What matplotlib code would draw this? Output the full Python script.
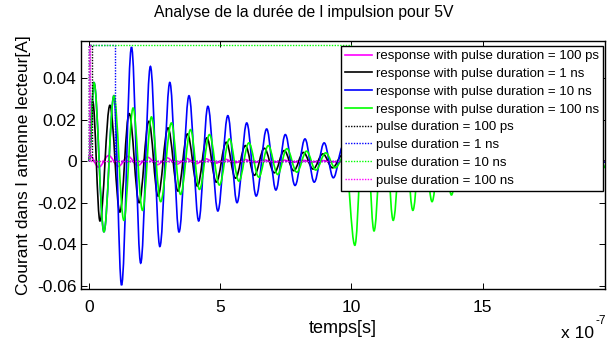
import matplotlib
matplotlib.use("Agg")
import matplotlib.pyplot as plt
from matplotlib.path import Path
from matplotlib.patches import PathPatch
from matplotlib.lines import Line2D

# time values are in units of 1e-7 s; values are the read extrema of each curve
t_green = [0, 0.19, 0.57, 0.95, 1.33, 1.68, 2.04, 2.38, 2.73, 3.14, 3.49, 3.87, 4.21, 4.59,
           4.97, 5.35, 5.71, 6.09, 6.47, 6.83, 7.19, 7.54, 7.92, 8.29, 8.64, 9.02, 9.38, 9.75,
           10.13, 10.5, 10.86, 11.23, 11.59, 11.97, 12.34, 12.7, 13.07, 13.44, 13.81, 14.18,
           14.55, 14.92, 15.28, 15.65, 16.02, 16.39, 16.76, 17.13, 17.5, 17.87, 18.24, 18.61,
           18.98, 19.35, 19.72]
i_green = [0, 0.0378, -0.034, 0.0315, -0.0285, 0.0256, -0.0237, 0.0213, -0.0195, 0.0184, -0.016,
           0.0152, -0.0136, 0.0128, -0.0115, 0.0107, -0.0096, 0.0088, -0.0077, 0.0075, -0.0064,
           0.006, -0.0053, 0.0048, -0.0043, 0.004, -0.0032, 0.003,
           -0.0405, 0.036, -0.0336, 0.031, -0.0285, 0.026, -0.0237, 0.022, -0.0195, 0.018,
           -0.0163, 0.015, -0.0135, 0.0125, -0.0112, 0.0104, -0.0093, 0.0086, -0.0077, 0.0071,
           -0.0064, 0.0059, -0.0053, 0.0049, -0.0044, 0.004, -0.0036]

t_blue = [0, 0.19, 0.57, 0.95, 1.24, 1.62, 1.97, 2.34, 2.70, 3.08, 3.43, 3.81, 4.18, 4.53, 4.91,
          5.29, 5.64, 6.01, 6.37, 6.77, 7.12, 7.48, 7.85, 8.23, 8.58, 8.96, 9.31, 9.68, 10.05,
          10.42, 10.79, 11.16, 11.53, 11.9, 12.27, 12.64, 13.01, 13.38, 13.75, 14.12, 14.49,
          14.86, 15.23, 15.6, 15.97, 16.34, 16.71, 17.08, 17.45, 17.82, 18.19, 18.56, 18.93,
          19.3, 19.67]
i_blue = [0, 0.0378, -0.034, 0.0315, -0.0597, 0.0549, -0.0491, 0.0456, -0.0411, 0.0379, -0.0341,
          0.0315, -0.0288, 0.0264, -0.024, 0.0219, -0.020, 0.0184, -0.0168, 0.0155, -0.0139,
          0.0128, -0.0117, 0.0107, -0.0101, 0.0088, -0.008, 0.0073, -0.0066, 0.006, -0.0054,
          0.0049, -0.0045, 0.004, -0.0037, 0.0033, -0.003, 0.0027, -0.0025, 0.0022, -0.002,
          0.0018, -0.0017, 0.0015, -0.0014, 0.0012, -0.0011, 0.001, -0.0009, 0.0008, -0.0008,
          0.0007, -0.0006, 0.0006, -0.0005]

t_black = [0, 0.14, 0.418, 0.797, 1.177, 1.53, 1.91, 2.28, 2.63, 3.01, 3.39, 3.75, 4.13, 4.49,
           4.85, 5.23, 5.58, 5.96, 6.30, 6.68, 7.06, 7.44, 7.80, 8.17, 8.54, 8.91, 9.28, 9.65,
           10.02, 10.39, 10.76, 11.13, 11.5, 11.87, 12.24, 12.61, 12.98, 13.35, 13.72, 14.09,
           14.46, 14.83, 15.2, 15.57, 15.94, 16.31, 19.7]
i_black = [0, 0.0288, -0.0288, 0.0269, -0.0245, 0.0229, -0.020, 0.0192, -0.0168, 0.016, -0.0144,
           0.0131, -0.012, 0.0112, -0.0101, 0.0091, -0.0082, 0.0075, -0.0068, 0.0062, -0.0056,
           0.0051, -0.0046, 0.0042, -0.0038, 0.0035, -0.0032, 0.0029, -0.0026, 0.0024, -0.0022,
           0.002, -0.0018, 0.0016, -0.0015, 0.0013, -0.0012, 0.0011, -0.001, 0.0009, -0.0008,
           0.0008, -0.0007, 0.0006, -0.0006, 0.0005, 0]

t_magenta = [0, 0.02, 0.37, 0.75, 1.12, 1.49, 1.86, 2.23, 2.6, 2.97, 3.34, 3.71, 4.08, 4.45,
             4.82, 5.19, 5.56, 5.93, 6.3, 6.67, 7.04, 7.41, 7.78, 8.15, 8.52, 8.89, 9.26, 19.7]
i_magenta = [0, 0.003, -0.0029, 0.0027, -0.0025, 0.0023, -0.0021, 0.0019, -0.0017, 0.0016,
             -0.0015, 0.0013, -0.0012, 0.0011, -0.001, 0.0009, -0.0008, 0.0008, -0.0007, 0.0006,
             -0.0006, 0.0005, -0.0005, 0.0004, -0.0004, 0.0003, -0.0003, 0]

pulse_amp = 0.0557
pulse_end_black = 0.12
pulse_end_blue = 1.0
pulse_end_green = 10.0
pulse_end_magenta = 0.04
t_final = 19.7

response_labels = ["response with pulse duration = 100 ps",
                   "response with pulse duration = 1 ns",
                   "response with pulse duration = 10 ns",
                   "response with pulse duration = 100 ns"]
pulse_labels = ["pulse duration = 100 ps", "pulse duration = 1 ns",
                "pulse duration = 10 ns", "pulse duration = 100 ns"]

x_ticks = [0, 5, 10, 15]
x_ticklabels = ["0", "5", "10", "15"]
y_ticks = [-0.06, -0.04, -0.02, 0, 0.02, 0.04]
y_ticklabels = ["-0.06", "-0.04", "-0.02", "0", "0.02", "0.04"]

plt.rcParams['font.family'] = ['Liberation Sans', 'DejaVu Sans']

W, H = 607, 340
fig = plt.figure(figsize=(W / 100, H / 100), dpi=100)
ax = fig.add_axes([80.7 / W, 1 - 289.3 / H, 524.3 / W, 248.6 / H])

lw = 1.2
K = 0.364  # Bezier handle fraction giving a sine-like half wave between extrema


def smooth_curve(ts, vs, color, z):
    verts = [(ts[0], vs[0])]
    codes = [Path.MOVETO]
    for k in range(len(ts) - 1):
        t0, v0, t1, v1 = ts[k], vs[k], ts[k + 1], vs[k + 1]
        dt = t1 - t0
        verts += [(t0 + K * dt, v0), (t1 - K * dt, v1), (t1, v1)]
        codes += [Path.CURVE4] * 3
    patch = PathPatch(Path(verts, codes), facecolor='none', edgecolor=color, lw=lw,
                      zorder=z, transform=ax.transData)
    ax.add_patch(patch)


handles = []
series = [(t_magenta, i_magenta, (1, 0, 1)), (t_black, i_black, 'k'),
          (t_blue, i_blue, (0, 0, 1)), (t_green, i_green, (0, 1, 0))]
for n, (ts, vs, col) in enumerate(series):
    smooth_curve(ts, vs, col, 2 + n * 0.1)
    handles.append(Line2D([], [], color=col, lw=lw, label=response_labels[n]))


def pulse(end):
    return [0, 0, end, end, t_final], [0, pulse_amp, pulse_amp, 0, 0]


plw = 1.0
for end, col, lab in [(pulse_end_black, 'k', pulse_labels[0]),
                      (pulse_end_blue, (0, 0, 1), pulse_labels[1]),
                      (pulse_end_green, (0, 1, 0), pulse_labels[2]),
                      (pulse_end_magenta, (1, 0, 1), pulse_labels[3])]:
    px, py = pulse(end)
    h, = ax.plot(px, py, color=col, lw=plw, ls=(0, (1, 1)), label=lab, zorder=3)
    handles.append(h)

ax.set_xlim(-0.316, 19.66)
ax.set_ylim(-0.0617, 0.058)
ax.set_xticks(x_ticks)
ax.set_xticklabels(x_ticklabels)
ax.set_yticks(y_ticks)
ax.set_yticklabels(y_ticklabels)
ax.tick_params(direction='in', length=4, width=0.7, top=True, right=True,
               labelsize=12.5)
ax.tick_params(axis='x', pad=8)
ax.tick_params(axis='y', pad=3)
for s in ax.spines.values():
    s.set_linewidth(1.0)

ax.set_xlabel("temps[s]", fontsize=13, labelpad=3)
ax.set_ylabel("Courant dans l antenne lecteur[A]", fontsize=12.5, labelpad=4)
fig.text(0.5, 1 - 13 / H, "Analyse de la durée de l impulsion pour 5V",
         ha='center', va='center', fontsize=11.3)
fig.text(561 / W, 1 - 338 / H, "x 10", ha='left', va='baseline', fontsize=12.5)
fig.text(595 / W, 1 - 324 / H, "-7", ha='left', va='baseline', fontsize=8.5)

leg = ax.legend(handles=handles, loc='upper right', bbox_to_anchor=(0.9968, 0.9787),
                borderaxespad=0, fontsize=9.5, frameon=True, fancybox=False, framealpha=1,
                handlelength=2.0, handletextpad=0.35, labelspacing=0.42,
                borderpad=0.3)
leg.get_frame().set_edgecolor('k')
leg.get_frame().set_linewidth(1.0)
leg.set_zorder(10)

fig.savefig("out.png", dpi=100)
